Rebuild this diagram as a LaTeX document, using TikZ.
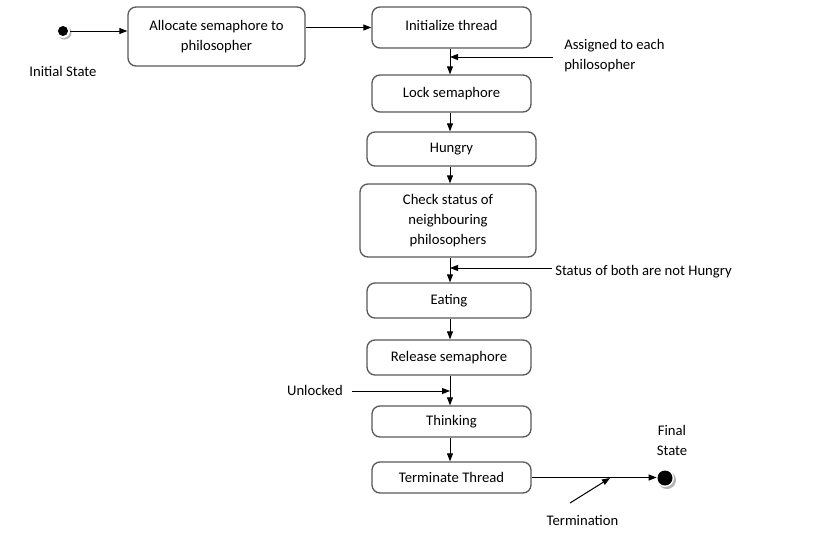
\documentclass[tikz,border=0pt]{standalone}
\usepackage{fontspec}
\setmainfont{Carlito}
\usetikzlibrary{arrows.meta}

\tikzset{
  statebox/.style={draw=black!65, line width=1pt, rounded corners=6pt, fill=white,
    align=center, inner sep=1pt},
  note/.style={align=left, inner sep=0pt, anchor=west},
  flow/.style={-{Triangle[length=6pt,width=4.5pt]}, line width=0.75pt},
}

\begin{document}
\begin{tikzpicture}[x=0.75pt, y=-0.75pt, font=\fontsize{11}{15}\selectfont]
	\useasboundingbox (0,0) rectangle (819,540);
	\coordinate (spine) at (450,0);
	% states
	\node[statebox, minimum width=132.75pt, minimum height=44.25pt] (alloc) at (216.5,36.5) {Allocate semaphore to\\philosopher};
	\node[statebox, minimum width=119.25pt, minimum height=30.75pt] (init) at (451.5,27.5) {\raisebox{3.75pt}{Initialize thread}};
	\node[statebox, minimum width=119.25pt, minimum height=27.75pt] (lock) at (451.5,93.5) {Lock semaphore};
	\node[statebox, minimum width=126.75pt, minimum height=25.5pt] (hungry) at (451.5,149) {Hungry};
	\node[statebox, minimum width=132pt, minimum height=54.75pt] (check) at (448,220.5) {Check status of\\neighbouring\\philosophers};
	\node[statebox, minimum width=123pt, minimum height=26.25pt] (eating) at (449,300.5) {Eating};
	\node[statebox, minimum width=123pt, minimum height=26.25pt] (release) at (449,357.5) {Release semaphore};
	\node[statebox, minimum width=119.25pt, minimum height=23.25pt] (thinking) at (451.5,421.5) {Thinking};
	\node[statebox, minimum width=119.25pt, minimum height=23.25pt] (term) at (451.5,477.5) {Terminate Thread};
	% initial and final states
	\coordinate (start) at (63,31);
	\fill[black!30] (64.5,32.5) circle (7);
	\fill[white] (start) circle (7);
	\fill (start) circle (5);
	\coordinate (stop) at (665,478);
	\fill[black!30] (667,480) circle (9);
	\fill[white] (stop) circle (9);
	\fill (stop) circle (7.5);
	\node[inner sep=0pt] (lblstart) at (63,71) {Initial State};
	\node[inner sep=0pt, align=center] (lblstop) at (672,440.5) {Final\\State};
	% main flow
	\draw[flow] (start) ++(7,0) coordinate (startout) -- (startout -| alloc.west);
	\draw[flow] (alloc.east |- init) -- (init.west);
	\draw[flow] (init.south -| spine) -- (lock.north -| spine);
	\draw[flow] (lock.south -| spine) -- (hungry.north -| spine);
	\draw[flow] (hungry.south -| spine) -- (check.north -| spine);
	\draw[flow] (check.south -| spine) -- (eating.north -| spine);
	\draw[flow] (eating.south -| spine) -- (release.north -| spine);
	\draw[flow] (release.south -| spine) -- (thinking.north -| spine);
	\draw[flow] (thinking.south -| spine) -- (term.north -| spine);
	\draw[flow] (term.east) -- ++(125,0) coordinate (stopin);
	% guards
	\coordinate (assign) at (553,57);
	\draw[flow] (assign) -- (assign -| spine);
	\node[note] (lblassign) at (564,56) {Assigned to each\\philosopher};
	\coordinate (status) at (552,268);
	\draw[flow] (status) -- (status -| spine);
	\node[note] (lblstatus) at (555,272) {Status of both are not Hungry};
	\coordinate (unlock) at (352,391);
	\draw[flow] (unlock) -- (unlock -| spine);
	\node[note, anchor=east] (lblunlock) at (343,390) {Unlocked};
	\coordinate (termin) at (570,503);
	\draw[flow] (termin) -- (610,478);
	\node[inner sep=0pt] (lbltermin) at (582.5,520) {Termination};
\end{tikzpicture}
\end{document}
